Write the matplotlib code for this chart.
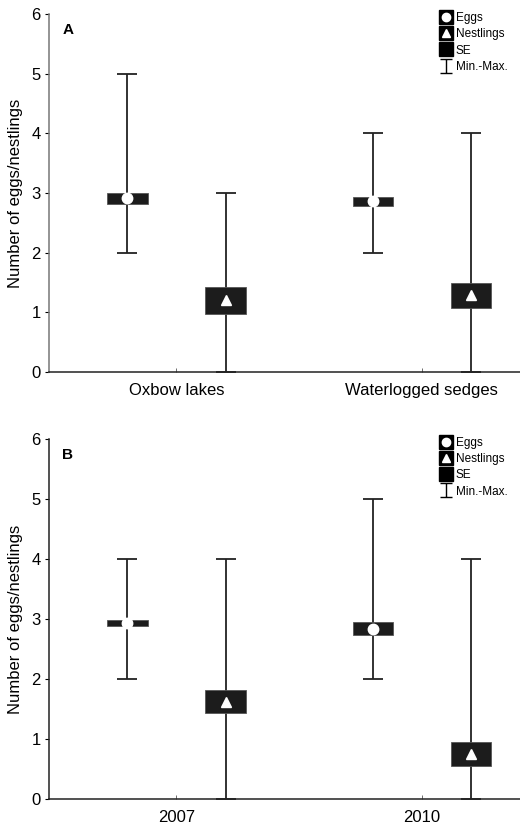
import matplotlib
matplotlib.use("Agg")
import matplotlib.pyplot as plt
import numpy as np
from matplotlib.lines import Line2D
from matplotlib.path import Path

plt.rcParams["font.family"] = ["Liberation Sans", "DejaVu Sans"]

# panel A: habitat
hab_labels = ["Oxbow lakes", "Waterlogged sedges"]
hab_eggs_mean = [2.91, 2.86]
hab_eggs_se = [(2.82, 3.00), (2.78, 2.93)]
hab_eggs_range = [(2, 5), (2, 4)]
hab_nest_mean = [1.20, 1.29]
hab_nest_se = [(0.98, 1.42), (1.08, 1.50)]
hab_nest_range = [(0, 3), (0, 4)]

# panel B: year
year_labels = ["2007", "2010"]
year_eggs_mean = [2.94, 2.83]
year_eggs_se = [(2.89, 2.99), (2.73, 2.95)]
year_eggs_range = [(2, 4), (2, 5)]
year_nest_mean = [1.62, 0.75]
year_nest_se = [(1.43, 1.81), (0.55, 0.95)]
year_nest_range = [(0, 4), (0, 4)]

OFFSET = 0.2
BOX_W = 0.164
CAP = 7

# I-shaped marker for the Min.-Max. legend entry
i_path = Path([(-0.8, 1), (0.8, 1), (0, 1), (0, -1), (-0.8, -1), (0.8, -1)],
              [Path.MOVETO, Path.LINETO, Path.MOVETO, Path.LINETO, Path.MOVETO, Path.LINETO])


def draw_group(ax, xs, mean, se, rng, marker, msize):
    mean = np.asarray(mean)
    lo = np.array([r[0] for r in rng])
    hi = np.array([r[1] for r in rng])
    ax.errorbar(xs, mean, yerr=[mean - lo, hi - mean], fmt="none",
                ecolor="#222222", elinewidth=1.3, capsize=CAP, capthick=1.3, zorder=2)
    se_lo = np.array([s[0] for s in se])
    se_hi = np.array([s[1] for s in se])
    ax.bar(xs, se_hi - se_lo, bottom=se_lo, width=BOX_W, color="#1c1c1c",
           edgecolor="#555555", linewidth=0.6, zorder=3)
    ax.plot(xs, mean, linestyle="none", marker=marker, markersize=msize,
            markerfacecolor="white", markeredgecolor="white", zorder=4)


def panel(ax, labels, em, es, er, nm, ns, nr, tag, spine_col):
    x = np.arange(len(labels))
    draw_group(ax, x - OFFSET, em, es, er, "o", 7.5)
    draw_group(ax, x + OFFSET, nm, ns, nr, "^", 6.5)
    ax.set_xlim(-0.52, 1.40)
    ax.set_ylim(0, 6)
    ax.set_yticks(range(0, 7))
    ax.set_xticks(x)
    ax.set_xticklabels(labels, fontsize=12)
    ax.tick_params(axis="x", direction="in", length=3, width=0.6, pad=8, color="#555555")
    ax.tick_params(axis="y", direction="out", length=3, width=0.8, labelsize=12, pad=3)
    for s in ("top", "right"):
        ax.spines[s].set_visible(False)
    ax.spines["left"].set_color(spine_col)
    ax.spines["bottom"].set_color("#222222")
    ax.spines["left"].set_linewidth(1.1)
    ax.spines["bottom"].set_linewidth(1.1)
    ax.set_ylabel("Number of eggs/nestlings", fontsize=12, labelpad=6)
    ax.text(0.04, 0.955, tag, transform=ax.transAxes, fontsize=11,
            fontweight="bold", va="center", ha="center")

    handles = [
        (Line2D([], [], marker="s", color="black", linestyle="none", markersize=10),
         Line2D([], [], marker="o", color="white", linestyle="none", markersize=6)),
        (Line2D([], [], marker="s", color="black", linestyle="none", markersize=10),
         Line2D([], [], marker="^", color="white", linestyle="none", markersize=6)),
        Line2D([], [], marker="s", color="black", linestyle="none", markersize=10),
        Line2D([], [], marker=i_path, color="black", markerfacecolor="none",
               linestyle="none", markersize=10, markeredgewidth=1.0),
    ]
    ax.legend(handles, ["Eggs", "Nestlings", "SE", "Min.-Max."],
              loc="upper left", bbox_to_anchor=(0.83, 1.005),
              frameon=False, fontsize=8.5, handlelength=1.0,
              handletextpad=0.35, labelspacing=0.35, borderaxespad=0,
              borderpad=0)


fig = plt.figure(figsize=(5.2, 8.26), dpi=100)
ax_a = fig.add_axes([0.094, 0.5496, 0.906, 0.4334])
ax_b = fig.add_axes([0.094, 0.0327, 0.906, 0.4358])

panel(ax_a, hab_labels, hab_eggs_mean, hab_eggs_se, hab_eggs_range,
      hab_nest_mean, hab_nest_se, hab_nest_range, "A", "#777777")
panel(ax_b, year_labels, year_eggs_mean, year_eggs_se, year_eggs_range,
      year_nest_mean, year_nest_se, year_nest_range, "B", "#222222")

fig.savefig("out.png", dpi=100)
